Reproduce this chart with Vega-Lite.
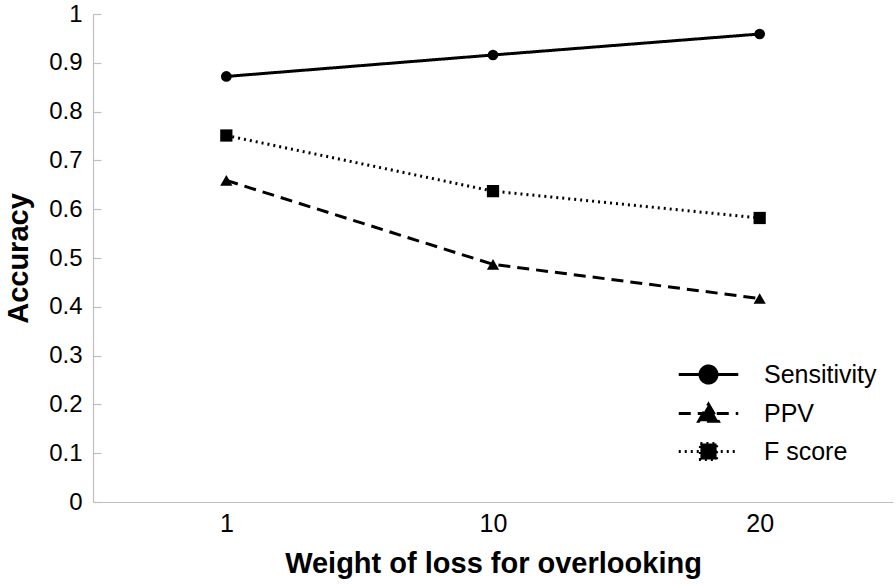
{
  "$schema": "https://vega.github.io/schema/vega-lite/v6.json",
  "width": 800,
  "height": 488,
  "autosize": {"type": "none"},
  "padding": {"left": 93, "top": 14, "right": 3, "bottom": 82},
  "background": "white",
  "config": {"view": {"stroke": null}, "font": "Liberation Sans"},
  "data": {
    "values": [
      {"weight": 1, "series": "Sensitivity", "accuracy": 0.872},
      {"weight": 10, "series": "Sensitivity", "accuracy": 0.916},
      {"weight": 20, "series": "Sensitivity", "accuracy": 0.959},
      {"weight": 1, "series": "PPV", "accuracy": 0.659},
      {"weight": 10, "series": "PPV", "accuracy": 0.487},
      {"weight": 20, "series": "PPV", "accuracy": 0.417},
      {"weight": 1, "series": "F score", "accuracy": 0.751},
      {"weight": 10, "series": "F score", "accuracy": 0.637},
      {"weight": 20, "series": "F score", "accuracy": 0.582}
    ]
  },
  "encoding": {
    "x": {
      "field": "weight",
      "type": "ordinal",
      "scale": {"type": "point", "padding": 0.5},
      "axis": {
        "title": "Weight of loss for overlooking",
        "titleFont": "Liberation Sans",
        "titleFontSize": 29,
        "titleFontWeight": "bold",
        "titleColor": "black",
        "titlePadding": 13,
        "labelAngle": 0,
        "labelFont": "Liberation Sans",
        "labelFontSize": 25,
        "labelColor": "black",
        "labelPadding": 9,
        "ticks": false,
        "domainColor": "#bfbfbf",
        "domainWidth": 1.2,
        "grid": false
      }
    },
    "y": {
      "field": "accuracy",
      "type": "quantitative",
      "scale": {"domain": [0, 1], "nice": false, "zero": true},
      "axis": {
        "title": "Accuracy",
        "titleFont": "Liberation Sans",
        "titleFontSize": 29,
        "titleFontWeight": "bold",
        "titleColor": "black",
        "titlePadding": 15,
        "values": [0, 0.1, 0.2, 0.3, 0.4, 0.5, 0.6, 0.7, 0.8, 0.9, 1],
        "format": ".1~f",
        "labelFont": "Liberation Sans",
        "labelFontSize": 24,
        "labelColor": "black",
        "labelPadding": 19,
        "ticks": true,
        "tickSize": -8,
        "tickColor": "#bfbfbf",
        "tickWidth": 1.2,
        "domainColor": "#bfbfbf",
        "domainWidth": 1.2,
        "grid": false
      }
    }
  },
  "layer": [
    {
      "mark": {"type": "line", "color": "black", "strokeWidth": 3},
      "encoding": {
        "strokeDash": {
          "field": "series",
          "type": "nominal",
          "scale": {
            "domain": ["Sensitivity", "PPV", "F score"],
            "range": [[1, 0], [12, 7], [2, 4]]
          },
          "legend": {
            "title": null,
            "orient": "none",
            "legendX": 603,
            "legendY": 348,
            "padding": 0,
            "symbolSize": 289,
            "symbolStrokeWidth": 3,
            "symbolStrokeColor": "black",
            "symbolFillColor": "black",
            "labelFont": "Liberation Sans",
            "labelFontSize": 25,
            "labelColor": "black",
            "labelOffset": 43,
            "rowPadding": 9,
            "encode": {
              "symbols": {
                "update": {
                  "shape": {"signal": "datum.value === 'Sensitivity' ? 'M-3.5,0H3.5M-1,0A1,1,0,1,1,1,0A1,1,0,1,1,-1,0Z' : datum.value === 'PPV' ? 'M-3.5,0H3.5M0,-1.1L1.15,0.9L-1.15,0.9Z' : 'M-3.5,0H3.5M-0.95,-0.95H0.95V0.95H-0.95Z'"},
                  "fill": {"value": "black"},
                  "stroke": {"value": "black"}
                }
              }
            }
          }
        }
      }
    },
    {
      "transform": [{"filter": "datum.series === 'Sensitivity'"}],
      "mark": {"type": "point", "shape": "circle", "filled": true, "color": "black", "opacity": 1, "size": 115}
    },
    {
      "transform": [{"filter": "datum.series === 'PPV'"}],
      "mark": {"type": "point", "shape": "triangle-up", "filled": true, "color": "black", "opacity": 1, "size": 150}
    },
    {
      "transform": [{"filter": "datum.series === 'F score'"}],
      "mark": {"type": "point", "shape": "square", "filled": true, "color": "black", "opacity": 1, "size": 150}
    }
  ]
}
